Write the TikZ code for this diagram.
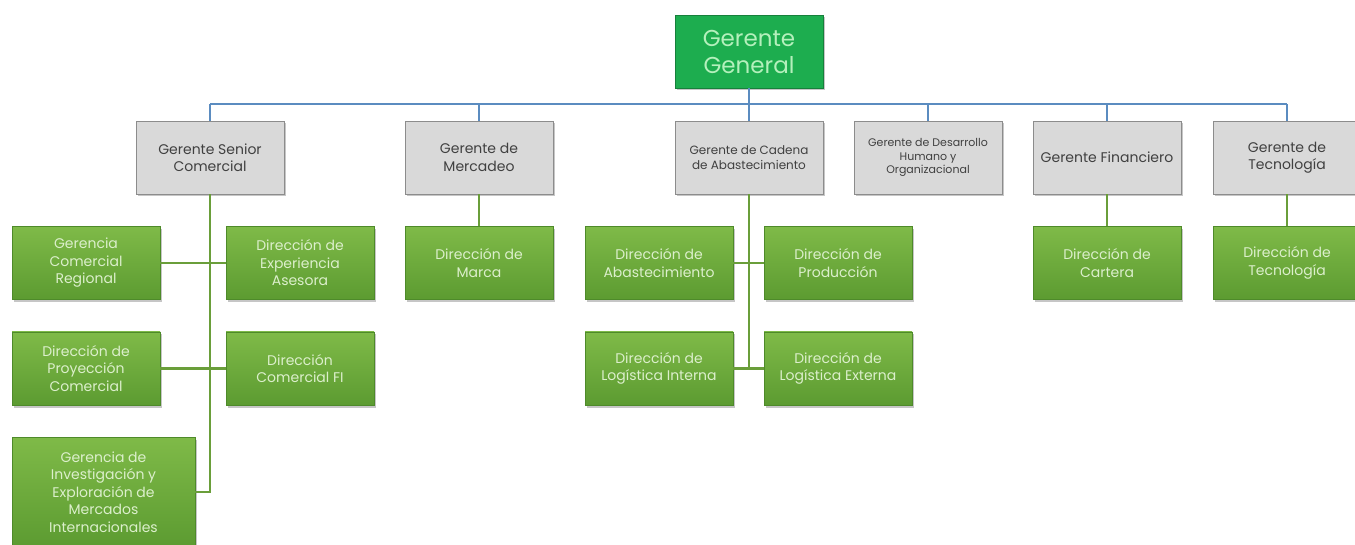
\documentclass[tikz,border=0pt]{standalone}
\usepackage{fontspec}
\setmainfont{Poppins}
\usetikzlibrary{shadows}
\definecolor{ggfill}{HTML}{1DAD4F}
\definecolor{ggdraw}{HTML}{17803C}
\definecolor{ggtext}{HTML}{B4F0BC}
\definecolor{greyfill}{HTML}{D9D9D9}
\definecolor{greydraw}{HTML}{8C8C8C}
\definecolor{greytext}{HTML}{404040}
\definecolor{gtop}{HTML}{7FBA48}
\definecolor{gbot}{HTML}{5C9B31}
\definecolor{gdraw}{HTML}{4E8A2A}
\definecolor{gtext}{HTML}{DCEFCC}
\definecolor{busblue}{HTML}{5B8CC0}
\definecolor{lgreen}{HTML}{6A9E3A}
\tikzset{
  base/.style={rectangle, minimum width=148pt, minimum height=73pt, inner sep=0pt, align=center,
    line width=0.8pt, drop shadow={shadow xshift=2pt, shadow yshift=-2.5pt, opacity=0.45}},
  topbox/.style={base, fill=ggfill, draw=ggdraw, text=ggtext, font=\fontsize{23}{27}\selectfont},
  greybox/.style={base, fill=greyfill, draw=greydraw, text=greytext, font=\fontsize{14}{17.5}\selectfont},
  greenbox/.style={base, top color=gtop, bottom color=gbot, draw=gdraw, text=gtext, font=\fontsize{14}{17.5}\selectfont},
  bus/.style={draw=busblue, line width=2.6pt},
  link/.style={draw=lgreen, line width=2.6pt}
}
\begin{document}
\begin{tikzpicture}[x=1pt,y=-1pt]
\useasboundingbox (0,0) rectangle (1355,545);
% top
\node[topbox] (GG) at (749,51.5) {Gerente\\General};
% managers
\node[greybox] (GSC) at (210,157.5) {Gerente Senior\\Comercial};
\node[greybox] (GM) at (479,157.5) {Gerente de\\Mercadeo};
\node[greybox, font=\fontsize{12}{15}\selectfont] (GCA) at (749,157.5) {Gerente de Cadena\\de Abastecimiento};
\node[greybox, font=\fontsize{11}{13.5}\selectfont] (GDH) at (928,157.5) {Gerente de Desarrollo\\Humano y\\Organizacional};
\node[greybox] (GF) at (1107,157.5) {Gerente Financiero};
\node[greybox] (GT) at (1287,157.5) {Gerente de\\Tecnología};
% bus
\coordinate (busy) at (0,104);
\draw[bus] (GG.south) -- (GG.south |- busy);
\draw[bus] (GSC.north |- busy) -- (GT.north |- busy);
\foreach \n in {GSC,GM,GCA,GDH,GF,GT} \draw[bus] (\n.north) -- (\n.north |- busy);
% green level
\node[greenbox] (GCR) at (86,263) {Gerencia\\Comercial\\Regional};
\node[greenbox] (DEA) at (300,263) {Dirección de\\Experiencia\\Asesora};
\node[greenbox] (DPC) at (86,368.5) {Dirección de\\Proyección\\Comercial};
\node[greenbox] (DCF) at (300,368.5) {Dirección\\Comercial FI};
\node[greenbox, minimum width=183pt, minimum height=110pt] (GIE) at (103.5,492) {Gerencia de\\Investigación y\\Exploración de\\Mercados\\Internacionales};
\node[greenbox] (DM) at (479,263) {Dirección de\\Marca};
\node[greenbox] (DA) at (659,263) {Dirección de\\Abastecimiento};
\node[greenbox] (DP) at (838,263) {Dirección de\\Producción};
\node[greenbox] (DLI) at (659,368.5) {Dirección de\\Logística Interna};
\node[greenbox] (DLE) at (838,368.5) {Dirección de\\Logística Externa};
\node[greenbox] (DC) at (1107,263) {Dirección de\\Cartera};
\node[greenbox] (DT) at (1287,263) {Dirección de\\Tecnología};
% green links
\draw[link] (GSC.south) -- (GSC.south |- GIE.east) -- (GIE.east);
\draw[link] (GCR.east) -- (DEA.west);
\draw[link] (DPC.east) -- (DCF.west);
\draw[link] (GCA.south) -- (GCA.south |- DLI.east);
\draw[link] (DA.east) -- (DP.west);
\draw[link] (DLI.east) -- (DLE.west);
\draw[link] (GM.south) -- (DM.north);
\draw[link] (GF.south) -- (DC.north);
\draw[link] (GT.south) -- (DT.north);
\end{tikzpicture}
\end{document}
